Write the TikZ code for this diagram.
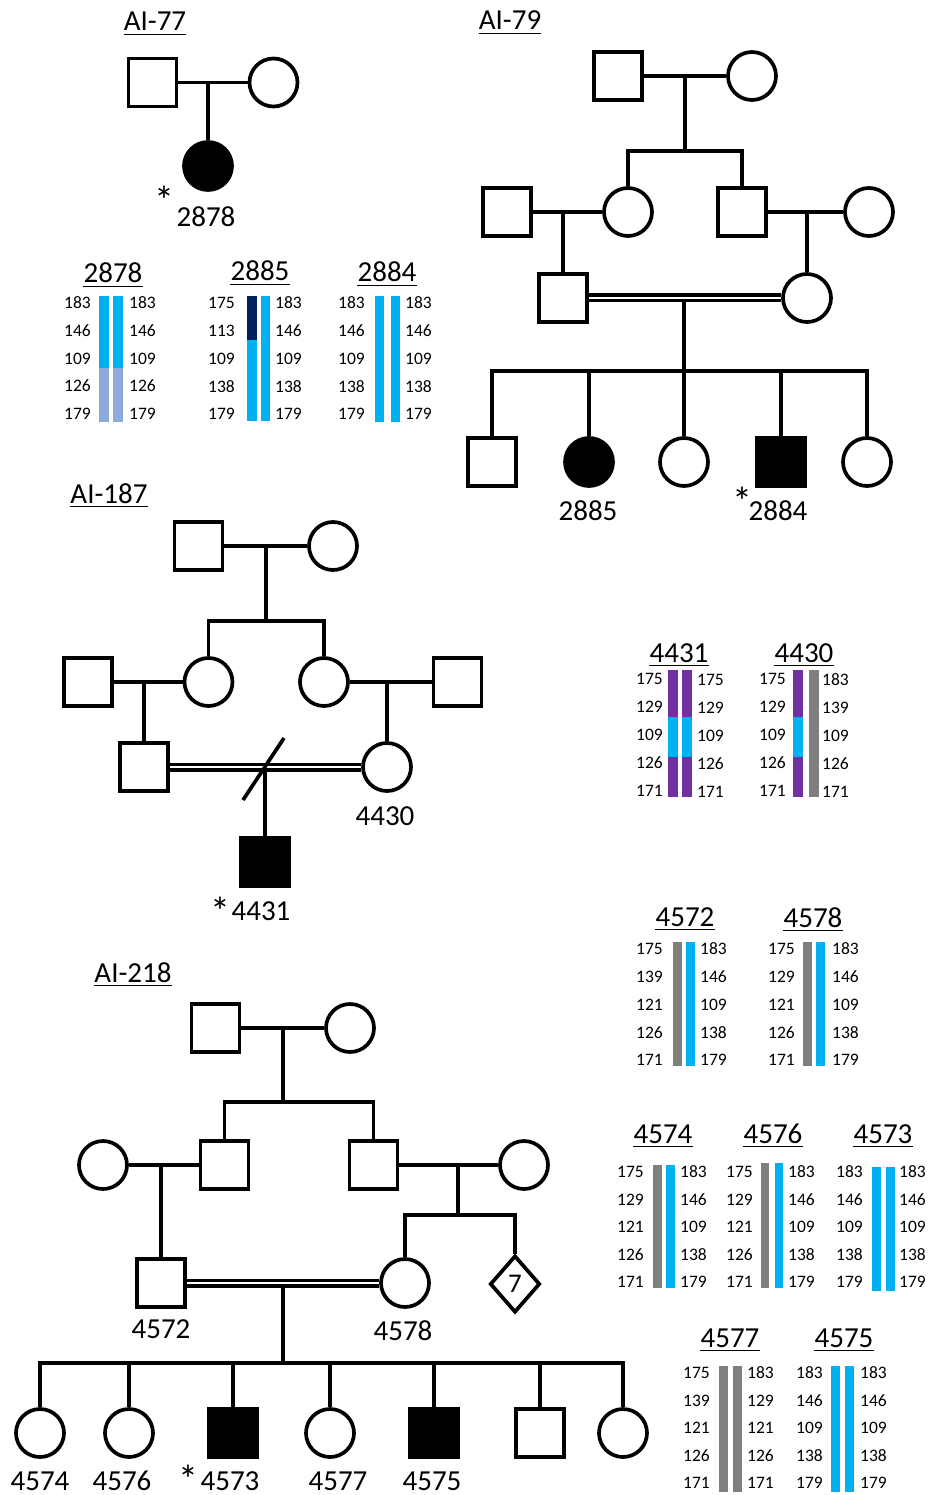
\documentclass[tikz,border=0pt]{standalone}
\usepackage{fontspec}
\setmainfont{Carlito}
\usetikzlibrary{shapes.geometric}

\definecolor{sky}{HTML}{00B0F0}
\definecolor{lilac}{HTML}{8EA9DB}
\definecolor{navy}{HTML}{002060}
\definecolor{plum}{HTML}{7030A0}
\definecolor{ash}{HTML}{7F7F7F}

\tikzset{
  male/.style={draw, rectangle, minimum size=48pt, inner sep=0pt, line width=3.7pt},
  female/.style={draw, circle, minimum size=48pt, inner sep=0pt, line width=3.7pt},
  twins/.style={draw, diamond, minimum width=50pt, minimum height=57pt, inner sep=0pt,
    line width=3.7pt, font=\fontsize{27}{27}\selectfont},
  affected/.style={fill=black},
  rel/.style={line width=3.7pt},
  cons/.style={line width=3.2pt, double=white, double distance=2.6pt},
  idno/.style={font=\fontsize{29}{29}\selectfont, inner sep=0pt, anchor=base},
  proband/.style={font=\fontsize{40}{40}\selectfont, inner sep=0pt, anchor=center},
  hdr/.style={font=\fontsize{29}{29}\selectfont, inner sep=0pt, anchor=base},
  uline/.style={line width=1.8pt},
  num/.style={font=\fontsize{17.5}{17.5}\selectfont, inner sep=0pt},
}

\begin{document}
\begin{tikzpicture}[x=1pt,y=-1pt]
\useasboundingbox (0,0) rectangle (931,1495);

% family titles
\node[hdr] (t77) at (155,31) {AI-77};
\node[hdr] (t79) at (510,30) {AI-79};
\node[hdr] (t187) at (109,503) {AI-187};
\node[hdr] (t218) at (133,982) {AI-218};

% ---- AI-77
\node[male] (a77f) at (152.5,82.5) {};
\node[female] (a77m) at (273.5,82.5) {};
\node[female,affected] (p2878) at (208,166) {};
\draw[rel] (a77f) -- (a77m);
\coordinate (a77j) at (208,82.5);
\draw[rel] (a77j) -- (p2878);
\node[idno] (l2878) at (206,227) {2878};
\node[proband] (s2878) at (164,200) {*};

% ---- AI-79
\node[male] (a79i1) at (618,76) {};
\node[female] (a79i2) at (752,76) {};
\node[male] (a79ii1) at (507,212) {};
\node[female] (a79ii2) at (628,212) {};
\node[male] (a79ii3) at (742,212) {};
\node[female] (a79ii4) at (869,212) {};
\node[male] (a79iii1) at (563,298) {};
\node[female] (a79iii2) at (807,298) {};
\node[male] (a79iv1) at (492,462) {};
\node[female,affected] (p2885) at (589,462) {};
\node[female] (a79iv3) at (684,462) {};
\node[male,affected] (p2884) at (781,462) {};
\node[female] (a79iv5) at (867,462) {};

\draw[rel] (a79i1) -- (a79i2);
\coordinate (a79j1) at (685,76);
\coordinate (a79s1) at (685,151);
\draw[rel] (a79j1) -- (a79s1);
\draw[rel] (a79ii2) |- (a79s1) -| (a79ii3);
\draw[rel] (a79ii1) -- (a79ii2);
\coordinate (a79j2) at (563,212);
\draw[rel] (a79j2) -- (a79iii1);
\draw[rel] (a79ii3) -- (a79ii4);
\coordinate (a79j3) at (807,212);
\draw[rel] (a79j3) -- (a79iii2);
\draw[cons] (a79iii1) -- (a79iii2);
\coordinate (a79j4) at (684,302);
\coordinate (a79s2) at (684,371);
\draw[rel] (a79j4) -- (a79s2);
\draw[rel] (a79iv1) |- (a79s2) -| (a79iv5);
\foreach \c in {p2885,a79iv3,p2884}
  \draw[rel] (\c) -- (\c |- a79s2);
\node[idno] (l2885) at (588,520) {2885};
\node[idno] (l2884) at (778,520) {2884};
\node[proband] (s2884) at (742,501) {*};

% ---- AI-187
\node[male] (a187i1) at (198.5,546) {};
\node[female] (a187i2) at (333,546) {};
\node[male] (a187ii1) at (88,682) {};
\node[female] (a187ii2) at (208.5,682) {};
\node[female] (a187ii3) at (324,682) {};
\node[male] (a187ii4) at (457.5,682) {};
\node[male] (a187iii1) at (144,767) {};
\node[female] (p4430) at (387,767) {};
\node[male,affected] (p4431) at (265,862) {};

\draw[rel] (a187i1) -- (a187i2);
\coordinate (a187j1) at (266,546);
\coordinate (a187s1) at (266,621);
\draw[rel] (a187j1) -- (a187s1);
\draw[rel] (a187ii2) |- (a187s1) -| (a187ii3);
\draw[rel] (a187ii1) -- (a187ii2);
\coordinate (a187j2) at (144,682);
\draw[rel] (a187j2) -- (a187iii1);
\draw[rel] (a187ii3) -- (a187ii4);
\coordinate (a187j3) at (387,682);
\draw[rel] (a187j3) -- (p4430);
\draw[cons] (a187iii1) -- (p4430);
\coordinate (a187j4) at (265,771);
\draw[rel] (a187j4) -- (p4431);
\coordinate (a187x1) at (243,800);
\coordinate (a187x2) at (284,738);
\draw[rel] (a187x1) -- (a187x2);
\node[idno] (l4430) at (385,825) {4430};
\node[idno] (l4431) at (261,920) {4431};
\node[proband] (s4431) at (220.5,911) {*};

% ---- AI-218
\node[male] (a218i1) at (215.5,1028) {};
\node[female] (a218i2) at (350,1028) {};
\node[female] (a218ii1) at (103,1165) {};
\node[male] (a218ii2) at (224.5,1165) {};
\node[male] (a218ii3) at (373.5,1165) {};
\node[female] (a218ii4) at (524,1165) {};
\node[male] (p4572) at (161,1283) {};
\node[female] (p4578) at (405,1283) {};
\node[twins] (a218iii3) at (515,1284) {7};
\node[female] (p4574) at (40,1433) {};
\node[female] (p4576) at (129,1433) {};
\node[male,affected] (p4573) at (233,1433) {};
\node[female] (p4577) at (330,1433) {};
\node[male,affected] (p4575) at (434,1433) {};
\node[male] (a218iv6) at (540,1433) {};
\node[female] (a218iv7) at (623,1433) {};

\draw[rel] (a218i1) -- (a218i2);
\coordinate (a218j1) at (283,1028);
\coordinate (a218s1) at (283,1102);
\draw[rel] (a218j1) -- (a218s1);
\draw[rel] (a218ii2) |- (a218s1) -| (a218ii3);
\draw[rel] (a218ii1) -- (a218ii2);
\coordinate (a218j2) at (161,1165);
\draw[rel] (a218j2) -- (p4572);
\draw[rel] (a218ii3) -- (a218ii4);
\coordinate (a218j3) at (458,1165);
\coordinate (a218s2) at (458,1215);
\draw[rel] (a218j3) -- (a218s2);
\draw[rel] (p4578) |- (a218s2) -| (a218iii3);
\draw[cons] (p4572) -- (p4578);
\coordinate (a218j4) at (283,1287);
\coordinate (a218s3) at (283,1363);
\draw[rel] (a218j4) -- (a218s3);
\draw[rel] (p4574) |- (a218s3) -| (a218iv7);
\foreach \c in {p4576,p4573,p4577,p4575,a218iv6}
  \draw[rel] (\c) -- (\c |- a218s3);
\node[idno] (l4572) at (161,1338) {4572};
\node[idno] (l4578) at (403,1340) {4578};
\node[idno] (l4574) at (40,1490) {4574};
\node[idno] (l4576) at (122,1490) {4576};
\node[idno] (l4573) at (230,1490) {4573};
\node[idno] (l4577) at (338,1490) {4577};
\node[idno] (l4575) at (432,1490) {4575};
\node[proband] (s4573) at (188,1479) {*};

% ---- haplotypes
\node[hdr] (h2878) at (113,283) {2878};
\fill[sky] (99,296) rectangle (109,368);
\fill[lilac] (99,368) rectangle (109,422);
\fill[sky] (113,296) rectangle (123,368);
\fill[lilac] (113,368) rectangle (123,422);
\foreach \a/\b [count=\i from 0] in {183/183,146/146,109/109,126/126,179/179}{
  \node[num,anchor=east] (h2878l\i) at (91,303+27.7*\i) {\a};
  \node[num,anchor=west] (h2878r\i) at (129,303+27.7*\i) {\b};
}

\node[hdr] (h2885) at (260,281) {2885};
\fill[navy] (247,296) rectangle (257,340);
\fill[sky] (247,340) rectangle (257,421);
\fill[sky] (261,296) rectangle (270,421);
\foreach \a/\b [count=\i from 0] in {175/183,113/146,109/109,138/138,179/179}{
  \node[num,anchor=east] (h2885l\i) at (235,303+27.7*\i) {\a};
  \node[num,anchor=west] (h2885r\i) at (275,303+27.7*\i) {\b};
}

\node[hdr] (h2884) at (387,282) {2884};
\fill[sky] (375,296) rectangle (384,422);
\fill[sky] (391,296) rectangle (400,422);
\foreach \a/\b [count=\i from 0] in {183/183,146/146,109/109,138/138,179/179}{
  \node[num,anchor=east] (h2884l\i) at (365,303+27.7*\i) {\a};
  \node[num,anchor=west] (h2884r\i) at (405,303+27.7*\i) {\b};
}

\node[hdr] (h4431) at (679,662) {4431};
\fill[plum] (668,670) rectangle (678,717);
\fill[sky] (668,717) rectangle (678,757);
\fill[plum] (668,757) rectangle (678,797);
\fill[plum] (682,670) rectangle (692,717);
\fill[sky] (682,717) rectangle (692,757);
\fill[plum] (682,757) rectangle (692,797);
\foreach \a/\b [count=\i from 0] in {175/175,129/129,109/109,126/126,171/171}{
  \node[num,anchor=east] (h4431l\i) at (663,679+28*\i) {\a};
  \node[num,anchor=west] (h4431r\i) at (697,680+28*\i) {\b};
}

\node[hdr] (h4430) at (804,662) {4430};
\fill[plum] (793,670) rectangle (803,717);
\fill[sky] (793,717) rectangle (803,757);
\fill[plum] (793,757) rectangle (803,797);
\fill[ash] (809,670) rectangle (819,797);
\foreach \a/\b [count=\i from 0] in {175/183,129/139,109/109,126/126,171/171}{
  \node[num,anchor=east] (h4430l\i) at (786,679+28*\i) {\a};
  \node[num,anchor=west] (h4430r\i) at (822,680+28*\i) {\b};
}

\node[hdr] (h4572) at (685,926) {4572};
\fill[ash] (673,942) rectangle (682,1066);
\fill[sky] (686,942) rectangle (695,1066);
\foreach \a/\b [count=\i from 0] in {175/183,139/146,121/109,126/138,171/179}{
  \node[num,anchor=east] (h4572l\i) at (663,949+27.8*\i) {\a};
  \node[num,anchor=west] (h4572r\i) at (700,949+27.8*\i) {\b};
}

\node[hdr] (h4578) at (813,927) {4578};
\fill[ash] (803,942) rectangle (812,1066);
\fill[sky] (816,942) rectangle (825,1066);
\foreach \a/\b [count=\i from 0] in {175/183,129/146,121/109,126/138,171/179}{
  \node[num,anchor=east] (h4578l\i) at (795,949+27.8*\i) {\a};
  \node[num,anchor=west] (h4578r\i) at (832,949+27.8*\i) {\b};
}

\node[hdr] (h4574) at (663,1143) {4574};
\fill[ash] (653,1165) rectangle (662,1288);
\fill[sky] (666,1165) rectangle (675,1288);
\foreach \a/\b [count=\i from 0] in {175/183,129/146,121/109,126/138,171/179}{
  \node[num,anchor=east] (h4574l\i) at (644,1172+27.5*\i) {\a};
  \node[num,anchor=west] (h4574r\i) at (680,1172+27.5*\i) {\b};
}

\node[hdr] (h4576) at (773,1143) {4576};
\fill[ash] (761,1163) rectangle (769,1288);
\fill[sky] (775,1163) rectangle (783,1288);
\foreach \a/\b [count=\i from 0] in {175/183,129/146,121/109,126/138,171/179}{
  \node[num,anchor=east] (h4576l\i) at (753,1172+27.5*\i) {\a};
  \node[num,anchor=west] (h4576r\i) at (788,1172+27.5*\i) {\b};
}

\node[hdr] (h4573) at (883,1143) {4573};
\fill[sky] (872,1167) rectangle (881,1291);
\fill[sky] (886,1167) rectangle (895,1291);
\foreach \a/\b [count=\i from 0] in {183/183,146/146,109/109,138/138,179/179}{
  \node[num,anchor=east] (h4573l\i) at (863,1172+27.5*\i) {\a};
  \node[num,anchor=west] (h4573r\i) at (899,1172+27.5*\i) {\b};
}

\node[hdr] (h4577) at (730,1347) {4577};
\fill[ash] (719,1366) rectangle (728,1492);
\fill[ash] (733,1366) rectangle (742,1492);
\foreach \a/\b [count=\i from 0] in {175/183,139/129,121/121,126/126,171/171}{
  \node[num,anchor=east] (h4577l\i) at (710,1373+27.5*\i) {\a};
  \node[num,anchor=west] (h4577r\i) at (747,1373+27.5*\i) {\b};
}

\node[hdr] (h4575) at (844,1347) {4575};
\fill[sky] (831,1366) rectangle (840,1492);
\fill[sky] (845,1366) rectangle (854,1492);
\foreach \a/\b [count=\i from 0] in {183/183,146/146,109/109,138/138,179/179}{
  \node[num,anchor=east] (h4575l\i) at (823,1373+27.5*\i) {\a};
  \node[num,anchor=west] (h4575r\i) at (860,1373+27.5*\i) {\b};
}

% underlines of titles and headers
\foreach \h in {t77,t79,t187,t218,h2878,h2885,h2884,h4431,h4430,h4572,h4578,h4574,h4576,h4573,h4577,h4575}
  \draw[uline] ([yshift=-3.5pt]\h.base west) -- ([yshift=-3.5pt]\h.base east);

\end{tikzpicture}
\end{document}
